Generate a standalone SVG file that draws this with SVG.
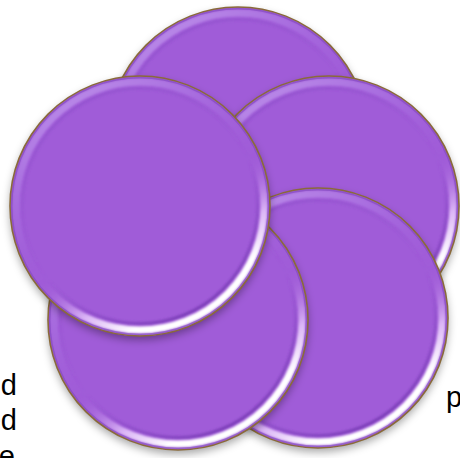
<svg xmlns="http://www.w3.org/2000/svg" xmlns:xlink="http://www.w3.org/1999/xlink" width="460" height="458" viewBox="0 0 460 458">
<style>
.txt{font-family:"Liberation Sans",Arial,sans-serif;font-size:29px;fill:#000}
.base{fill:#A05BD8}
.edge{fill:none;stroke:#8A6A3A;stroke-width:1.6}
</style>
<defs>
<filter id="shadow" x="-20%" y="-20%" width="140%" height="140%">
<feDropShadow dx="0" dy="4" stdDeviation="4" flood-color="#000" flood-opacity="0.35"/>
</filter>
<filter id="soft" x="-10%" y="-10%" width="120%" height="120%">
<feGaussianBlur stdDeviation="1.1"/>
</filter>
<linearGradient id="rim" x1="0.1" y1="0" x2="0.7" y2="1">
<stop offset="0" stop-color="#C8A2F0" stop-opacity="0.85"/>
<stop offset="0.4" stop-color="#B080E8" stop-opacity="0.25"/>
<stop offset="0.6" stop-color="#A05BD8" stop-opacity="0"/>
<stop offset="0.78" stop-color="#E6C6FC" stop-opacity="0.85"/>
<stop offset="0.9" stop-color="#FFFFFF" stop-opacity="1"/>
<stop offset="1" stop-color="#FFFFFF" stop-opacity="1"/>
</linearGradient>
<linearGradient id="dark" x1="0.1" y1="0" x2="0.7" y2="1">
<stop offset="0" stop-color="#7E42BE" stop-opacity="0.35"/>
<stop offset="0.6" stop-color="#7E42BE" stop-opacity="0"/>
<stop offset="1" stop-color="#6A2FA8" stop-opacity="0.7"/>
</linearGradient>
<g id="disc">
<circle class="base" r="130" filter="url(#shadow)"/>
<circle r="117.5" fill="none" stroke="url(#dark)" stroke-width="3" filter="url(#soft)"/>
<circle r="124" fill="none" stroke="url(#rim)" stroke-width="7" filter="url(#soft)"/>
<circle r="128.3" fill="none" stroke="#7A44B8" stroke-opacity="0.5" stroke-width="1.5"/>
<circle class="edge" r="130"/>
</g>
</defs>
<g id="text-left">
<text class="txt" x="17" y="395" text-anchor="end">d</text>
<text class="txt" x="17" y="430" text-anchor="end">ed</text>
<text class="txt" x="15" y="466" text-anchor="end">e</text>
</g>
<g id="text-right">
<text class="txt" x="446" y="407">p</text>
</g>
<g id="circle-top"><use xlink:href="#disc" x="238" y="137"/></g>
<g id="circle-right"><use xlink:href="#disc" x="329" y="206"/></g>
<g id="circle-bottom-right"><use xlink:href="#disc" x="318" y="318"/></g>
<g id="circle-bottom-left"><use xlink:href="#disc" x="178" y="320"/></g>
<g id="circle-left"><use xlink:href="#disc" x="140" y="206"/></g>
<g id="connectors"/>
</svg>
